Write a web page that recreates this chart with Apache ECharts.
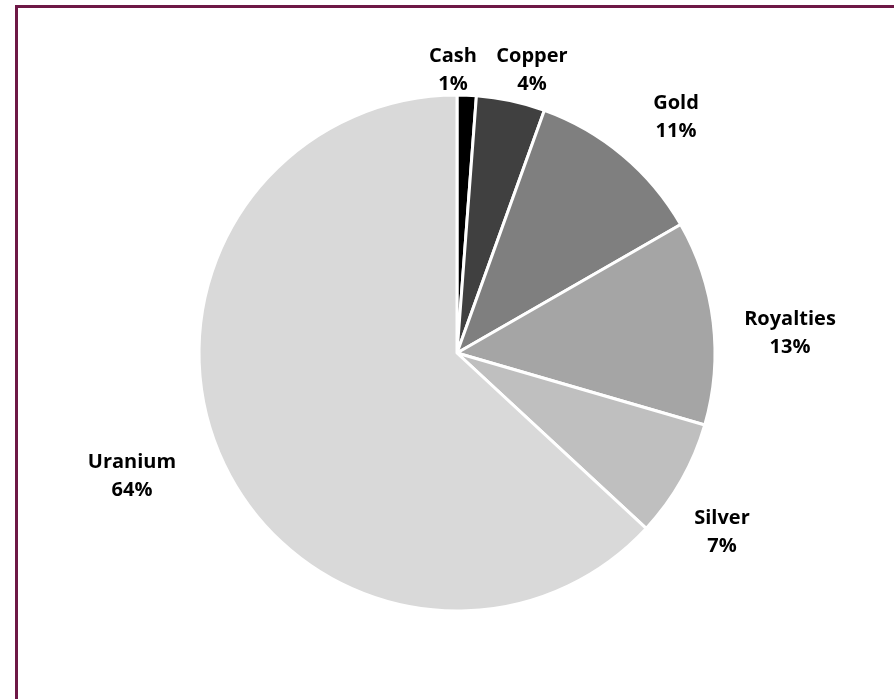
<!DOCTYPE html>
<html><head><meta charset="utf-8">
<script src="https://cdn.jsdelivr.net/npm/echarts@6/dist/echarts.min.js"></script>
<style>
html,body{margin:0;padding:0;background:#fff;overflow:hidden}
#frame{position:absolute;left:15px;top:5px;width:900px;height:720px;border-left:3px solid #6e1846;border-top:3px solid #6e1846;box-sizing:border-box}
#c{position:absolute;left:0;top:0;width:894px;height:699px}
</style></head>
<body><div id="frame"></div><div id="c"></div>
<script>
const categories = ['Cash','Copper','Gold','Royalties','Silver','Uranium'];
const values = [1.2, 4.3, 11.2, 12.8, 7.4, 63.1];
const shown = ['1%','4%','11%','13%','7%','64%'];
const colors = ['#000000','#404040','#7f7f7f','#a5a5a5','#bfbfbf','#d9d9d9'];

// label block centres (best-fit placement as in the original)
const labelPos = [[453,70],[532,70],[676,117],[790,333],[722,532],[132,476]];

const chart = echarts.init(document.getElementById('c'));
chart.setOption({
  animation:false,
  series:[{
    type:'pie',
    center:[457,353],
    radius:[0,258],
    startAngle:90,
    clockwise:true,
    avoidLabelOverlap:false,
    itemStyle:{borderColor:'#fff',borderWidth:3},
    label:{
      show:true,position:'outside',
      formatter:p=>p.name+'\n'+shown[p.dataIndex],
      fontFamily:'Open Sans',fontWeight:'bold',fontSize:20,color:'#000',lineHeight:28,align:'center'
    },
    labelLine:{show:false},
    labelLayout:p=>({x:labelPos[p.dataIndex][0],y:labelPos[p.dataIndex][1],align:'center',verticalAlign:'middle'}),
    data:categories.map((n,i)=>({name:n,value:values[i],itemStyle:{color:colors[i]}}))
  }]
});
</script></body></html>
